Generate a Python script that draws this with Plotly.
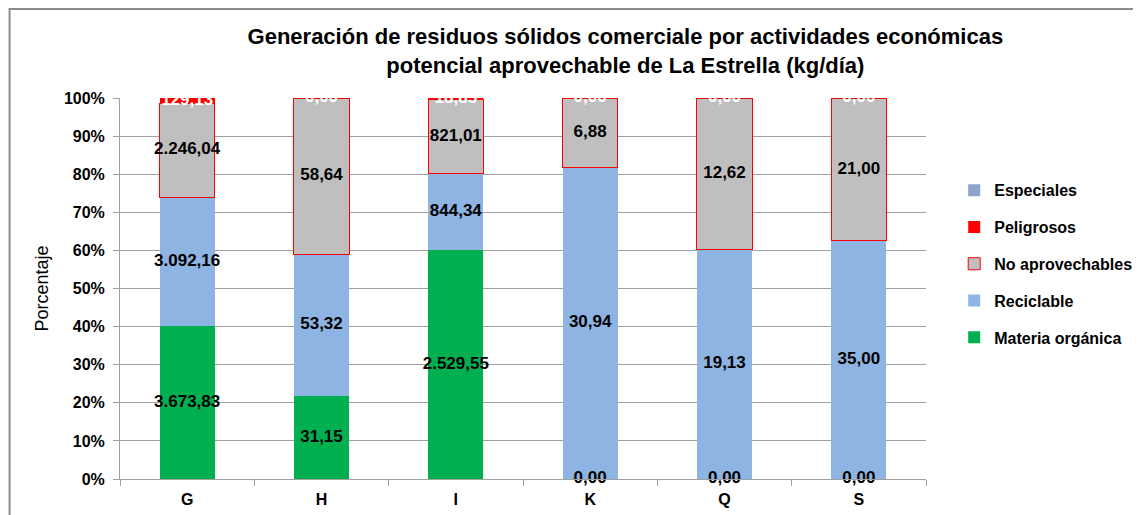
import plotly.graph_objs as go

categories = ['G', 'H', 'I', 'K', 'Q', 'S']
materia_organica = [3673.83, 31.15, 2529.55, 0.00, 0.00, 0.00]
reciclable = [3092.16, 53.32, 844.34, 30.94, 19.13, 35.00]
no_aprovechables = [2246.04, 58.64, 821.01, 6.88, 12.62, 21.00]
peligrosos = [129.13, 0.00, 18.85, 0.00, 0.00, 0.00]
especiales = [0.00, 0.00, 0.00, 0.00, 0.00, 0.00]

FONT = 'Liberation Sans, Arial, sans-serif'


def fmt(v):
    # formato español: 3.673,83
    return f'{v:,.2f}'.replace(',', 'X').replace('.', ',').replace('X', '.')


series = [
    ('Materia orgánica', materia_organica, '#00B050', None),
    ('Reciclable', reciclable, '#8DB4E2', None),
    ('No aprovechables', no_aprovechables, '#BFBFBF', '#FF0000'),
    ('Peligrosos', peligrosos, '#FF0000', None),
    ('Especiales', especiales, '#8EA5CB', None),
]

fig = go.Figure()
for i, (name, vals, color, line) in enumerate(series):
    fig.add_trace(go.Bar(
        x=categories, y=vals, name=name, legendgroup=name,
        legendrank=1000 - i,  # leyenda en orden inverso (Especiales arriba)
        marker=dict(color=color, line=dict(color=line or color, width=1 if line else 0)),
    ))

# etiquetas de datos en el centro de cada segmento
totals = [sum(s[1][j] for s in series) for j in range(len(categories))]
lab_x, lab_y, lab_t = [], [], []
top_x, top_y, top_t = [], [], []
for name, vals, color, line in series:
    if name == 'Especiales':
        continue
    for j, c in enumerate(categories):
        base = 0
        for n2, v2, _, _ in series:
            if n2 == name:
                break
            base += v2[j]
        mid = (base + vals[j] / 2) / totals[j] * 100
        if name == 'Peligrosos':
            top_x.append(c); top_y.append(mid); top_t.append(fmt(vals[j]))
        else:
            lab_x.append(c); lab_y.append(mid); lab_t.append(fmt(vals[j]))

fig.add_trace(go.Scatter(x=lab_x, y=lab_y, text=lab_t, mode='text', showlegend=False,
                         cliponaxis=False, hoverinfo='skip',
                         textfont=dict(family=FONT, size=17, color='black', weight='bold')))
fig.add_trace(go.Scatter(x=top_x, y=top_y, text=top_t, mode='text', showlegend=False,
                         cliponaxis=True, hoverinfo='skip',
                         textfont=dict(family=FONT, size=17, color='white', weight='bold')))

fig.update_layout(
    barmode='stack',
    barnorm='percent',
    bargap=0.59,
    width=1141, height=515,
    margin=dict(l=112, r=219, t=90, b=44),
    paper_bgcolor='white',
    plot_bgcolor='white',
    font=dict(family=FONT, color='black'),
    title=dict(
        text='Generación de residuos sólidos comerciale por actividades económicas<br>potencial aprovechable de La Estrella (kg/día)',
        x=0.627, xref='paper', xanchor='center', y=0.93, yanchor='middle',
        font=dict(family=FONT, size=22, color='black', weight='bold'),
    ),
    legend=dict(
        x=1.035, y=0.565, xanchor='left', yanchor='middle',
        traceorder='grouped', tracegroupgap=13,
        font=dict(family=FONT, size=16, color='black', weight='bold'),
        itemwidth=30,
    ),
    shapes=[dict(type='rect', xref='paper', yref='paper',
                 x0=-0.137, x1=1.3, y0=-0.2, y1=1.2336,
                 line=dict(color='#8C8C8C', width=2), layer='below')],
)
fig.update_xaxes(
    showline=True, linecolor='#A0A0A0', ticks='outside', tickson='boundaries',
    ticklen=6, tickcolor='#A0A0A0', ticklabelstandoff=6,
    tickfont=dict(family=FONT, size=16, color='black', weight='bold'),
)
fig.update_yaxes(
    range=[0, 100], dtick=10, ticksuffix='%',
    showline=True, linecolor='#A0A0A0', ticks='outside', ticklen=6, tickcolor='#A0A0A0',
    ticklabelstandoff=5,
    showgrid=True, gridcolor='#A0A0A0', zeroline=False,
    tickfont=dict(family=FONT, size=16, color='black', weight='bold'),
    title=dict(text='Porcentaje', standoff=10, font=dict(family=FONT, size=18, color='black')),
)

fig.write_html('out.html')
